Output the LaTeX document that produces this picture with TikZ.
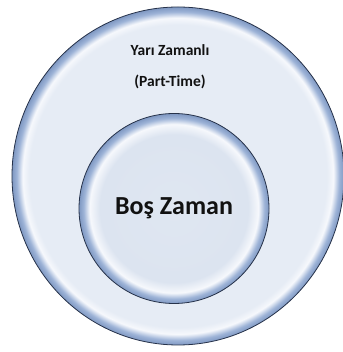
\documentclass[tikz,border=0pt]{standalone}
\usepackage{fontspec}
\setmainfont{Carlito}
\usepackage{xcolor}
\usetikzlibrary{shapes,positioning}
\definecolor{zoneline}{HTML}{26324A}
\definecolor{zonetext}{HTML}{111111}
\definecolor{zonefill}{HTML}{E6ECF5}
\definecolor{corefill}{HTML}{DCE4F0}
\definecolor{zoneshine}{HTML}{F6F8FC}
\definecolor{zoneedge}{HTML}{9DB3D7}
\definecolor{zonerim}{HTML}{7F98C2}
\pgfdeclareradialshading{outerbevel}{\pgfpoint{0bp}{0bp}}{%
	color(0bp)=(zonefill);
	color(22.4bp)=(zonefill);
	color(23.4bp)=(zoneshine);
	color(24.3bp)=(zoneedge);
	color(25bp)=(zonerim);
	color(50bp)=(zonerim)}
\pgfdeclareradialshading{innerbevel}{\pgfpoint{0bp}{0bp}}{%
	color(0bp)=(corefill!70!zonefill);
	color(19.5bp)=(corefill);
	color(22.2bp)=(zoneshine);
	color(23.8bp)=(zoneedge);
	color(25bp)=(zonerim);
	color(50bp)=(zonerim)}
\tikzset{%
	outerzone/.style={ellipse, draw=zoneline, thick, shading=outerbevel, inner sep=0pt, minimum width=332pt, minimum height=338pt},
	innerzone/.style={circle, draw=zoneline, thick, shading=innerbevel, inner sep=0pt, minimum size=190pt, text=zonetext, font=\bfseries\fontsize{26}{30}\selectfont},
	zonelabel/.style={text=zonetext, align=center, font=\bfseries\fontsize{15.5}{31}\selectfont}}

\begin{document}
\begin{tikzpicture}[x=1pt, y=1pt]
		\useasboundingbox (0,0) rectangle (342,352);
		\node[outerzone] (parttime) at (178,176) {};
		\node[innerzone] (leisure) at (174,143.5) {Boş Zaman};
		\node[zonelabel] (parttimelabel) at (170,285) {Yarı Zamanlı\\(Part-Time)};
	\end{tikzpicture}
\end{document}
